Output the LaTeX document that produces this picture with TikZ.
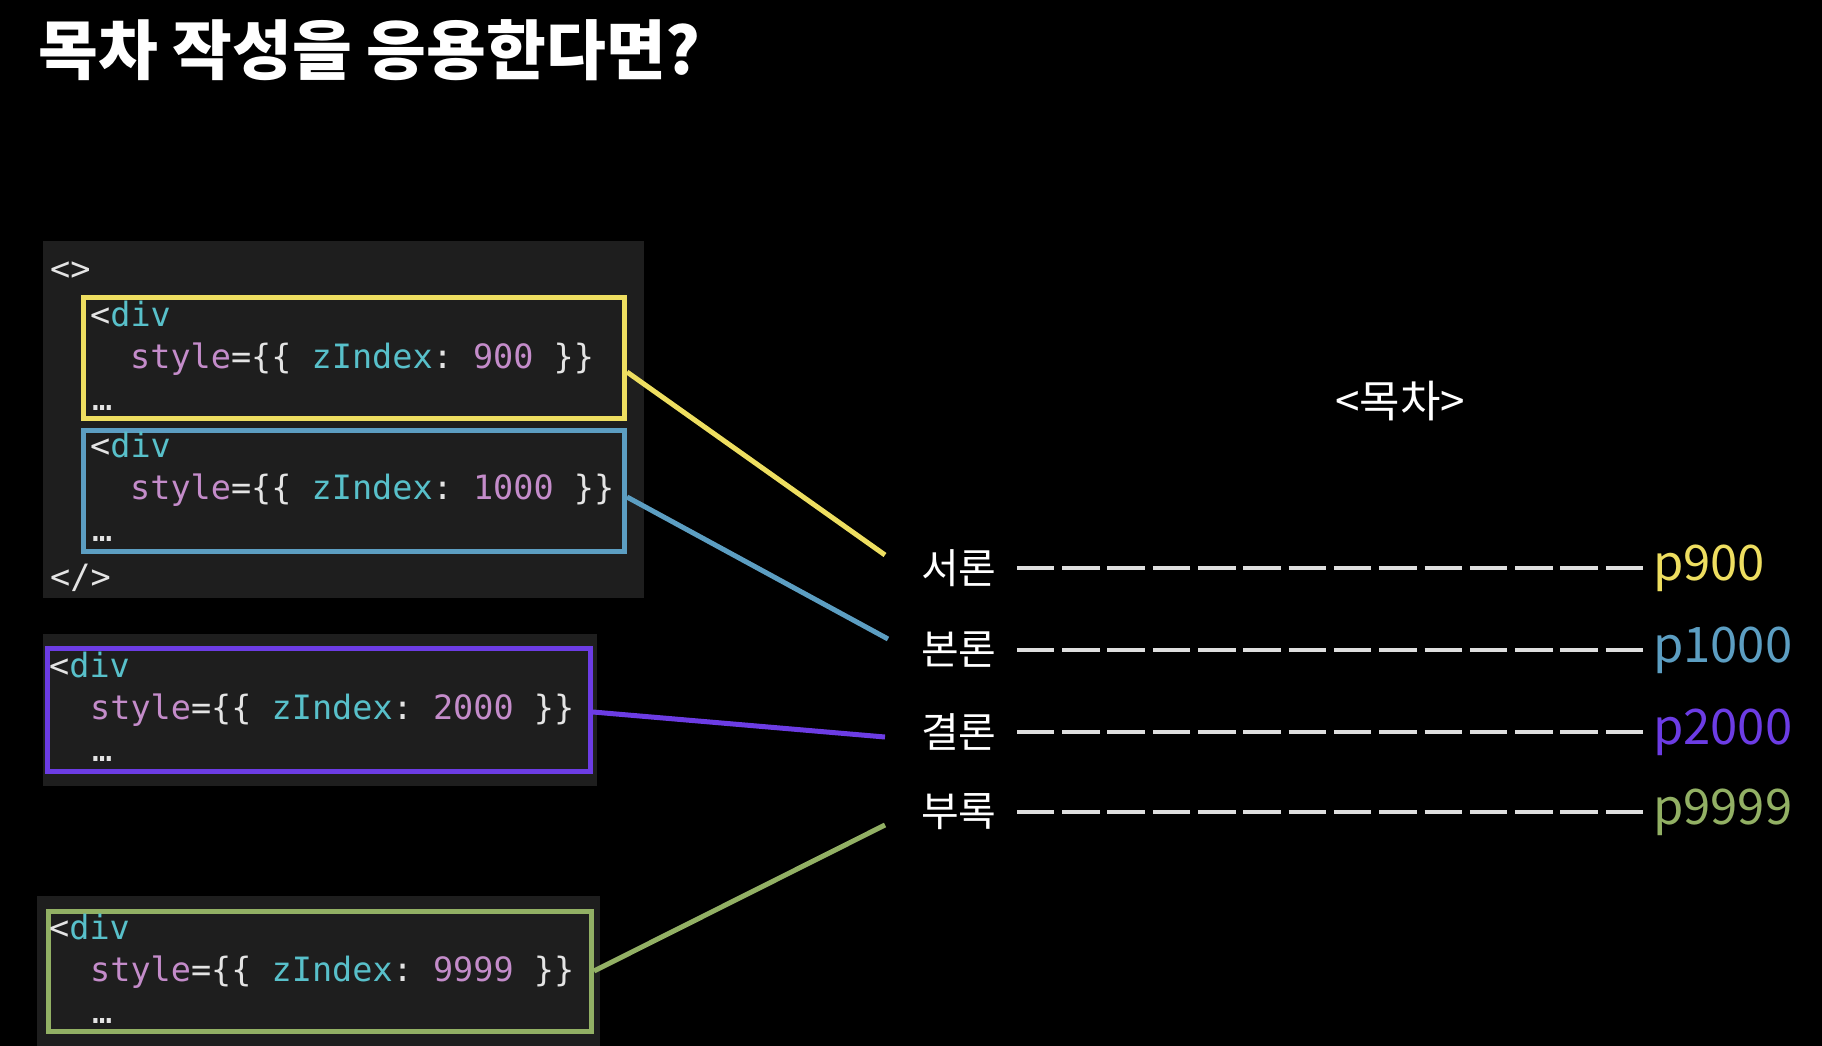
\documentclass[tikz,border=0pt]{standalone}
\usepackage{fontspec}
\setmainfont{Noto Sans CJK KR}
\newfontfamily\codefont{DejaVu Sans Mono}
\frenchspacing
\definecolor{panel}{RGB}{30,30,30}
\definecolor{yel}{RGB}{238,222,96}
\definecolor{blu}{RGB}{92,158,194}
\definecolor{pur}{RGB}{108,60,228}
\definecolor{grn}{RGB}{146,176,100}
\definecolor{tagc}{RGB}{88,192,202}
\definecolor{attrc}{RGB}{196,140,202}
\definecolor{punc}{RGB}{228,228,228}
\definecolor{dashc}{RGB}{222,222,222}
\tikzstyle{zbox} = [rectangle, draw, line width=5pt, fill=panel, inner sep=0pt]
\tikzstyle{code} = [anchor=base west, inner sep=0pt, font=\codefont\fontsize{33.5}{40}\selectfont, text=punc]
\tikzstyle{toc} = [anchor=west, inner sep=0pt, font=\fontsize{41}{48}\selectfont, text=white]
\tikzstyle{page} = [anchor=west, inner sep=0pt, font=\fontsize{49}{58}\selectfont]
\tikzstyle{link} = [line width=5pt]
\tikzstyle{leader} = [line width=4pt, draw=dashc, dash pattern=on 37.5pt off 7.8pt]
\newcommand{\divtag}{<\textcolor{tagc}{div}}
\newcommand{\zstyle}[1]{\textcolor{attrc}{style}=\{\{ \textcolor{tagc}{zIndex}: \textcolor{attrc}{#1} \}\}}

\begin{document}
\begin{tikzpicture}[x=1pt, y=-1pt]
    \fill [black] (0,0) rectangle (1822,1046);
    \useasboundingbox (0,0) rectangle (1822,1046);
    \node [anchor=base west, inner sep=0pt, font=\bfseries\fontsize{65}{75}\selectfont, text=white] at (38,75) (title) {목차 작성을 응용한다면?};
    \fill [panel] (43,241) rectangle (644,598);
    \fill [panel] (43,634) rectangle (597,786);
    \fill [panel] (37,896) rectangle (600,1046);
    \node [zbox, draw=yel, minimum width=541pt, minimum height=121pt] at (354,358) (ybox) {};
    \node [zbox, draw=blu, minimum width=541pt, minimum height=121pt] at (354,491) (bbox) {};
    \node [zbox, draw=pur, minimum width=543pt, minimum height=123pt] at (319,710) (pbox) {};
    \node [zbox, draw=grn, minimum width=543pt, minimum height=120pt] at (320,971) (gbox) {};
    \node [code] at (50,280) (open) {<>};
    \node [code] at (90,326) (ydiv) {\divtag};
    \node [code] at (130,368) (ystyle) {\zstyle{900}};
    \node [code] at (92,410) (ydots) {…};
    \node [code] at (90,457) (bdiv) {\divtag};
    \node [code] at (130,499) (bstyle) {\zstyle{1000}};
    \node [code] at (92,541) (bdots) {…};
    \node [code] at (50,588) (close) {</>};
    \node [code] at (49,677) (pdiv) {\divtag};
    \node [code] at (90,719) (pstyle) {\zstyle{2000}};
    \node [code] at (92,761) (pdots) {…};
    \node [code] at (49,939) (gdiv) {\divtag};
    \node [code] at (90,981) (gstyle) {\zstyle{9999}};
    \node [code] at (92,1023) (gdots) {…};
    \node [toc, anchor=center, font=\fontsize{44}{50}\selectfont] at (1400,401) (toc) {<목차>};
    \node [toc] at (921,568) (intro) {서론};
    \node [toc] at (921,650) (body) {본론};
    \node [toc] at (921,732) (concl) {결론};
    \node [toc] at (921,812) (appx) {부록};
    \node [page, text=yel] at (1653,568) (pintro) {p900};
    \node [page, text=blu] at (1653,650) (pbody) {p1000};
    \node [page, text=pur] at (1653,732) (pconcl) {p2000};
    \node [page, text=grn] at (1653,812) (pappx) {p9999};
    \draw [leader] ([xshift=20pt]intro.east) -- ([xshift=-9pt]pintro.west);
    \draw [leader] ([xshift=20pt]body.east) -- ([xshift=-9pt]pbody.west);
    \draw [leader] ([xshift=20pt]concl.east) -- ([xshift=-9pt]pconcl.west);
    \draw [leader] ([xshift=20pt]appx.east) -- ([xshift=-9pt]pappx.west);
    \draw [link, yel] ([yshift=-14pt]ybox.east) -- ([xshift=-36pt, yshift=13pt]intro.west);
    \draw [link, blu] ([yshift=-6pt]bbox.east) -- ([xshift=-33pt, yshift=11pt]body.west);
    \draw [link, pur] ([yshift=-2pt]pbox.east) -- ([xshift=-36pt, yshift=-5pt]concl.west);
    \draw [link, grn] (gbox.east) -- ([xshift=-36pt, yshift=-13pt]appx.west);
\end{tikzpicture}
\end{document}
